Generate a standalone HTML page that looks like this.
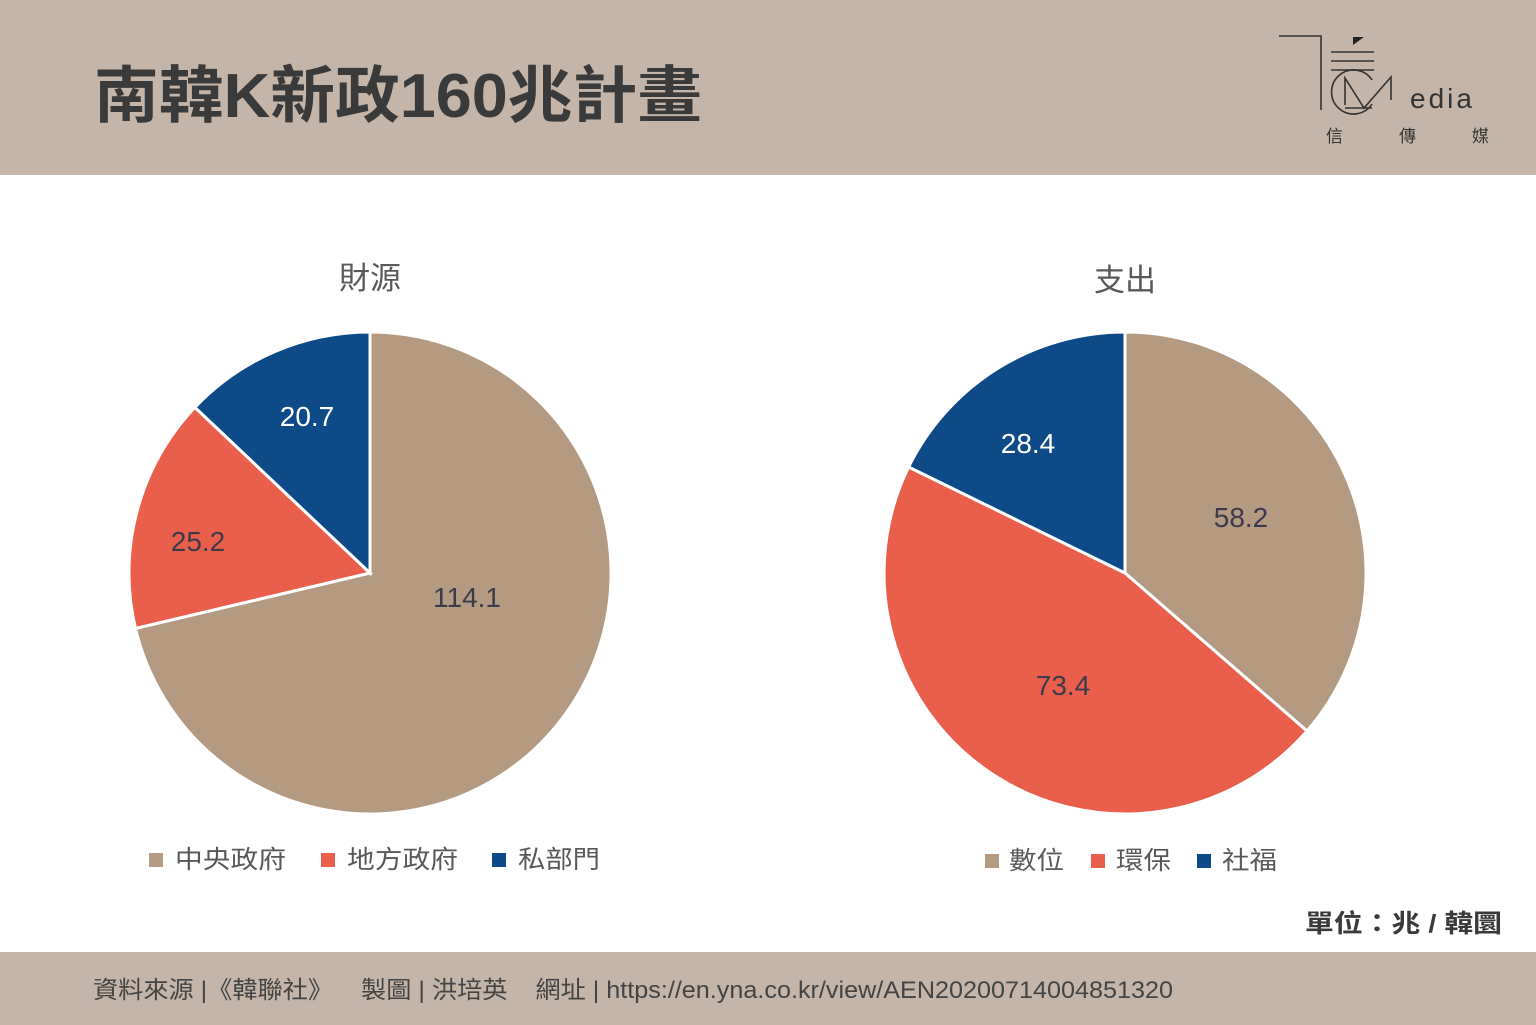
<!DOCTYPE html>
<html><head><meta charset="utf-8"><style>
body{margin:0;width:1536px;height:1025px;overflow:hidden;background:#fff;font-family:"Liberation Sans","Noto Sans CJK TC",sans-serif}
svg{display:block}
</style></head><body>
<svg width="1536" height="1025" xmlns="http://www.w3.org/2000/svg" font-family="Liberation Sans, Noto Sans CJK TC, sans-serif">
<rect x="0" y="0" width="1536" height="175" fill="#c5b5a8"/>
<rect x="0" y="952" width="1536" height="73" fill="#c5b5a8"/>
<text x="94" y="117" font-size="62" font-weight="bold" fill="#3a3a3a" textLength="608" lengthAdjust="spacingAndGlyphs">南韓K新政160兆計畫</text>
<!-- logo -->
<g stroke="#333" fill="none" stroke-width="1.6">
<path d="M1279 36 H1321 V110"/>
<path d="M1331 52 H1374 M1331 61 H1374 M1331 70 H1374"/>
<path d="M1372 80 A22 22 0 1 0 1372 104"/>
<path d="M1345 105 V78 L1364 108 L1391 77 V100"/>
<path d="M1345 108 H1372"/>
</g>
<path d="M1353 37 L1364 37 L1353 45Z" fill="#222"/>
<text x="1410" y="108" font-size="28" fill="#333" letter-spacing="3">edia</text>
<text x="1326" y="142" font-size="17" fill="#333">信</text>
<text x="1399" y="142" font-size="17" fill="#333">傳</text>
<text x="1472" y="142" font-size="17" fill="#333">媒</text>
<!-- left pie -->
<text x="370" y="289" font-size="31" text-anchor="middle" fill="#595959">財源</text>
<g stroke="#fff" stroke-width="3">
<path d="M370 573 L370 332 A241 241 0 1 1 135.5 628.4 Z" fill="#b39a80"/>
<path d="M370 573 L135.5 628.4 A241 241 0 0 1 194.9 407.4 Z" fill="#e95f4c"/>
<path d="M370 573 L194.9 407.4 A241 241 0 0 1 370 332 Z" fill="#0e4a87"/>
</g>
<text x="467" y="607" font-size="28" text-anchor="middle" fill="#3b3b4b">114.1</text>
<text x="198" y="551" font-size="28" text-anchor="middle" fill="#3b3b4b">25.2</text>
<text x="307" y="426" font-size="28" text-anchor="middle" fill="#fff">20.7</text>
<rect x="149" y="853" width="14" height="14" fill="#b39a80"/>
<text x="175" y="868" font-size="25" fill="#595959" textLength="111" lengthAdjust="spacingAndGlyphs">中央政府</text>
<rect x="321" y="853" width="14" height="14" fill="#e95f4c"/>
<text x="347" y="868" font-size="25" fill="#595959" textLength="111" lengthAdjust="spacingAndGlyphs">地方政府</text>
<rect x="492" y="853" width="14" height="14" fill="#0e4a87"/>
<text x="518" y="868" font-size="25" fill="#595959" textLength="82" lengthAdjust="spacingAndGlyphs">私部門</text>
<!-- right pie -->
<text x="1125" y="291" font-size="31" text-anchor="middle" fill="#595959">支出</text>
<g stroke="#fff" stroke-width="3">
<path d="M1125 573 L1125 332 A241 241 0 0 1 1307 731 Z" fill="#b39a80"/>
<path d="M1125 573 L1307 731 A241 241 0 0 1 908.6 467 Z" fill="#e95f4c"/>
<path d="M1125 573 L908.6 467 A241 241 0 0 1 1125 332 Z" fill="#0e4a87"/>
</g>
<text x="1241" y="527" font-size="28" text-anchor="middle" fill="#3b3b4b">58.2</text>
<text x="1063" y="695" font-size="28" text-anchor="middle" fill="#3b3b4b">73.4</text>
<text x="1028" y="453" font-size="28" text-anchor="middle" fill="#fff">28.4</text>
<rect x="985" y="854" width="14" height="14" fill="#b39a80"/>
<text x="1009" y="869" font-size="25" fill="#595959" textLength="55" lengthAdjust="spacingAndGlyphs">數位</text>
<rect x="1091" y="854" width="14" height="14" fill="#e95f4c"/>
<text x="1116" y="869" font-size="25" fill="#595959" textLength="55" lengthAdjust="spacingAndGlyphs">環保</text>
<rect x="1197" y="854" width="14" height="14" fill="#0e4a87"/>
<text x="1222" y="869" font-size="25" fill="#595959" textLength="55" lengthAdjust="spacingAndGlyphs">社福</text>
<text x="1305" y="932" font-size="25" font-weight="bold" fill="#3a3a3a" textLength="197" lengthAdjust="spacingAndGlyphs">單位：兆 / 韓圜</text>
<text x="93" y="998" font-size="24" fill="#444" textLength="1080" lengthAdjust="spacingAndGlyphs" xml:space="preserve">資料來源 |《韓聯社》    製圖 | 洪培英    網址 | https://en.yna.co.kr/view/AEN20200714004851320</text>
</svg>
</body></html>
